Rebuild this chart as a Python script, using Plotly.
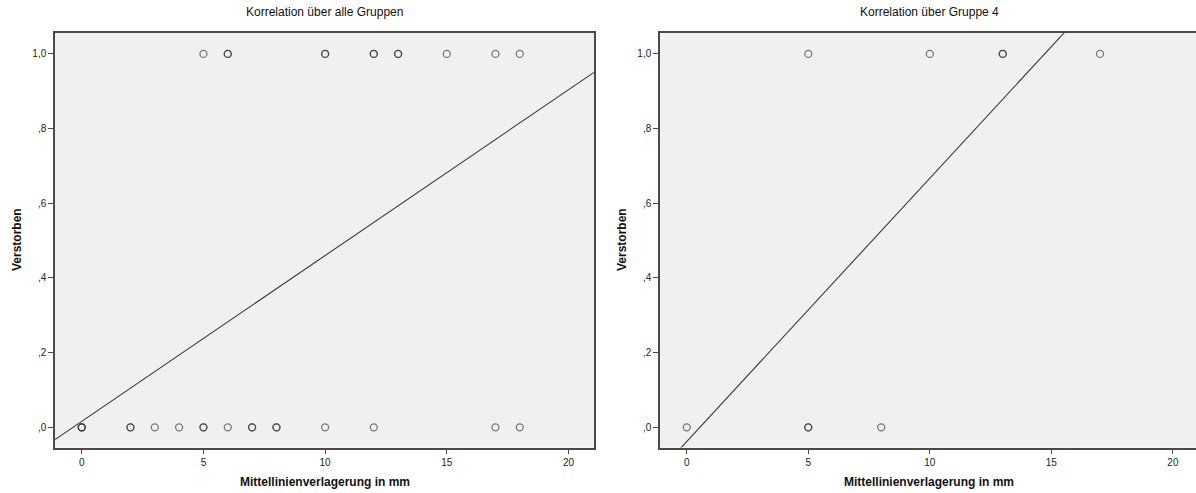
import numpy as np
import plotly.graph_objects as go

# --- data ---------------------------------------------------------------
# Mittellinienverlagerung (mm) and outcome (0 = überlebt, 1 = verstorben)
alle_x = [5, 6, 6, 10, 10, 12, 12, 13, 13, 15, 17, 18,
          0, 0, 0, 2, 2, 3, 4, 5, 5, 6, 7, 7, 8, 8, 10, 12, 17, 18]
alle_y = [1, 1, 1, 1, 1, 1, 1, 1, 1, 1, 1, 1,
          0, 0, 0, 0, 0, 0, 0, 0, 0, 0, 0, 0, 0, 0, 0, 0, 0, 0]

gruppe4_x = [5, 10, 13, 13, 17, 0, 5, 5, 8]
gruppe4_y = [1, 1, 1, 1, 1, 0, 0, 0, 0]

# linear fit lines (intercept, slope)
fit_alle = (0.016, 0.0444)
fit_gruppe4 = (-0.038, 0.0705)

x_tickvals = [0, 5, 10, 15, 20]
x_ticktext = ["0", "5", "10", "15", "20"]
y_tickvals = [0.0, 0.2, 0.4, 0.6, 0.8, 1.0]
y_ticktext = [",0", ",2", ",4", ",6", ",8", "1,0"]

titles = ["Korrelation über alle Gruppen", "Korrelation über Gruppe 4"]
x_title = "Mittellinienverlagerung in mm"
y_title = "Verstorben"

# --- layout geometry ----------------------------------------------------
W, H = 1196, 493
FONT = "Liberation Sans, Arial, sans-serif"
AXIS = "#4a4a4a"
TEXT = "#222222"
BG = "#f0f0f0"

x_range_left = [-1.1, 21.05]
x_range_right = [-1.1, 20.95]
y_range = [-0.054, 1.056]

dom_left = [55 / W, 594 / W]
dom_right = [660 / W, 1.0]
dom_y = [(H - 447.5) / H, (H - 33) / H]

fig = go.Figure()

marker = dict(symbol="circle-open", size=7,
              color="rgba(45,45,45,0.62)", line=dict(width=1.3))

for xs, ys, fit, xr, ax in [
    (alle_x, alle_y, fit_alle, x_range_left, ("x", "y")),
    (gruppe4_x, gruppe4_y, fit_gruppe4, x_range_right, ("x2", "y2")),
]:
    fig.add_trace(go.Scatter(x=xs, y=ys, mode="markers", marker=marker,
                             xaxis=ax[0], yaxis=ax[1], showlegend=False,
                             hoverinfo="x+y", cliponaxis=False))
    lx = np.array(xr)
    ly = fit[0] + fit[1] * lx
    fig.add_trace(go.Scatter(x=lx, y=ly, mode="lines",
                             line=dict(color="#3a3a3a", width=1.1),
                             xaxis=ax[0], yaxis=ax[1], showlegend=False,
                             hoverinfo="skip"))

xaxis_common = dict(
    tickmode="array", tickvals=x_tickvals, ticktext=x_ticktext,
    ticks="outside", ticklen=5, tickwidth=1, tickcolor=AXIS,
    showline=True, linecolor=AXIS, linewidth=1.5, mirror=True,
    showgrid=False, zeroline=False,
    tickfont=dict(family=FONT, size=10, color=TEXT),
)
yaxis_common = dict(
    range=y_range, domain=dom_y,
    tickmode="array", tickvals=y_tickvals, ticktext=y_ticktext,
    ticks="outside", ticklen=5, tickwidth=1, tickcolor=AXIS,
    showline=True, linecolor=AXIS, linewidth=1.5,
    showgrid=False, zeroline=False,
    tickfont=dict(family=FONT, size=10, color=TEXT),
)

fig.update_layout(
    width=W, height=H,
    margin=dict(l=0, r=0, t=0, b=0),
    paper_bgcolor="white",
    plot_bgcolor=BG,
    font=dict(family=FONT, color=TEXT),
    xaxis={**xaxis_common, "range": x_range_left, "domain": dom_left, "anchor": "y"},
    yaxis={**yaxis_common, "anchor": "x", "mirror": True},
    xaxis2={**xaxis_common, "range": x_range_right, "domain": dom_right, "anchor": "y2"},
    yaxis2={**yaxis_common, "anchor": "x2", "mirror": False},
)

# panel centres in pixels (right panel runs slightly past the page edge)
panel_cx = [(55 + 594) / 2, (660 + 1198) / 2]
ylab_px = [17, 622]

annotations = []
for cx_px, title, ylab_x in zip(panel_cx, titles, ylab_px):
    cx = cx_px / W
    annotations.append(dict(text=title, x=cx, y=1 - 12 / H, xref="paper", yref="paper",
                            showarrow=False, xanchor="center", yanchor="middle",
                            font=dict(family=FONT, size=12, color="#111111")))
    annotations.append(dict(text="<b>" + x_title + "</b>", x=cx, y=1 - 482 / H,
                            xref="paper", yref="paper", showarrow=False,
                            xanchor="center", yanchor="middle",
                            font=dict(family=FONT, size=12, color="#111111")))
    annotations.append(dict(text="<b>" + y_title + "</b>", x=ylab_x / W,
                            y=1 - 240 / H, xref="paper", yref="paper",
                            showarrow=False, textangle=-90,
                            xanchor="center", yanchor="middle",
                            font=dict(family=FONT, size=12, color="#111111")))
fig.update_layout(annotations=annotations)

fig.write_html("out.html")
